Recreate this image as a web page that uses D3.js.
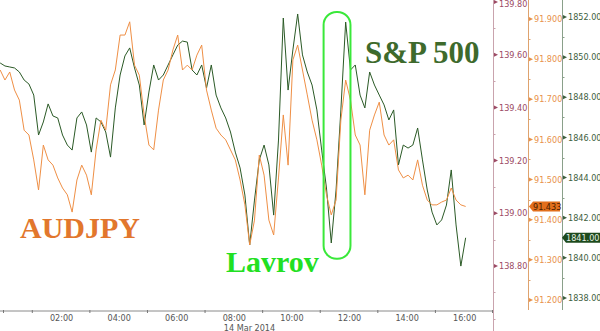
<!DOCTYPE html>
<html><head><meta charset="utf-8">
<script src="https://cdn.jsdelivr.net/npm/d3@7"></script>
<style>
body{margin:0;background:#fff;}
svg{display:block;}
.tk{font-family:"DejaVu Sans Condensed","DejaVu Sans",sans-serif;font-stretch:condensed;}
.ann{font-family:"Liberation Serif","Times New Roman",serif;font-weight:bold;}
</style></head>
<body>
<svg id="chart" width="600" height="331"></svg>
<script>
// ---- data (10-minute samples, 14 Mar 2014) ----
const startTime = new Date(2014, 2, 13, 23, 53);
const stepMinutes = 10;
const audjpy = [
  91.773, 91.748, 91.768, 91.723, 91.698, 91.623, 91.611, 91.549, 91.474, 91.586,
  91.549, 91.536, 91.504, 91.479, 91.462, 91.419, 91.499, 91.536, 91.511, 91.462,
  91.574, 91.648, 91.623, 91.736, 91.773, 91.860, 91.860, 91.893, 91.785, 91.760,
  91.661, 91.586, 91.574, 91.673, 91.748, 91.773, 91.823, 91.860, 91.773, 91.785,
  91.773, 91.810, 91.835, 91.723, 91.673, 91.628, 91.611, 91.599, 91.574, 91.549,
  91.499, 91.437, 91.337, 91.399, 91.561, 91.511, 91.399, 91.362, 91.504, 91.661,
  91.536, 91.798, 91.835, 91.773, 91.711, 91.648, 91.599, 91.536, 91.462, 91.412,
  91.449, 91.648, 91.748, 91.698, 91.611, 91.586, 91.462, 91.623, 91.661, 91.693,
  91.611, 91.586, 91.599, 91.524, 91.504, 91.511, 91.499, 91.549, 91.486, 91.449,
  91.437, 91.437, 91.444, 91.449, 91.479, 91.449, 91.437, 91.433
];
const spx = [
  1849.71, 1849.56, 1849.51, 1849.46, 1849.26, 1848.86, 1848.66, 1848.11, 1846.12, 1846.77,
  1847.67, 1847.07, 1846.97, 1846.12, 1845.62, 1845.37, 1846.97, 1847.27, 1846.62, 1845.27,
  1846.97, 1846.77, 1846.27, 1845.02, 1847.47, 1849.11, 1850.06, 1850.46, 1849.46, 1848.61,
  1846.62, 1848.26, 1849.61, 1848.86, 1849.11, 1849.61, 1850.11, 1850.60, 1850.80, 1850.75,
  1849.36, 1849.11, 1849.61, 1848.46, 1849.61, 1848.11, 1847.47, 1846.97, 1846.27, 1845.27,
  1844.48, 1843.13, 1840.64, 1842.88, 1844.88, 1845.62, 1844.63, 1842.13, 1845.87, 1851.95,
  1848.36, 1850.36, 1852.15, 1850.11, 1849.26, 1848.61, 1847.37, 1845.37, 1843.48, 1840.74,
  1843.38, 1847.37, 1851.75, 1849.36, 1849.61, 1848.11, 1847.47, 1849.26, 1848.61, 1848.11,
  1847.62, 1846.87, 1847.37, 1844.63, 1845.62, 1845.47, 1845.62, 1846.47, 1844.88, 1843.38,
  1842.28, 1841.64, 1841.89, 1842.63, 1844.38, 1841.64, 1839.59, 1841.00
];
const timeLabelHours = [2, 4, 6, 8, 10, 12, 14, 16];
const timeMinorHours = [0, 1, 3, 5, 7, 9, 11, 13, 15, 17];
const dateLabel = "14 Mar 2014";
const axis1Ticks = [138.8, 139.0, 139.2, 139.4, 139.6, 139.8];
const axis2Ticks = [91.2, 91.3, 91.4, 91.5, 91.6, 91.7, 91.8, 91.9];
const axis3Ticks = [1838, 1840, 1842, 1844, 1846, 1848, 1850, 1852];
const labelAud = "AUDJPY";
const labelSpx = "S&P 500";
const labelLavrov = "Lavrov";

// ---- scales ----
const day = (h, m = 0, s = 0) => new Date(2014, 2, 14, h, m, s);
const W = 493, axisY = 311;
const x = d3.scaleTime().domain([new Date(2014, 2, 13, 23, 52, 42), day(17)]).range([0, W]);
const y1 = d3.scaleLinear().domain([138.8, 139.8]).range([266, 2]);
const y2 = d3.scaleLinear().domain([91.2, 91.9]).range([300, 19]);
const y3 = d3.scaleLinear().domain([1838, 1852]).range([298, 17]);
const times = audjpy.map((_, i) => new Date(+startTime + i * stepMinutes * 60000));

const svg = d3.select("#chart");
const defs = svg.append("defs");
defs.append("clipPath").attr("id", "plotclip").append("rect").attr("x", 0).attr("y", 0).attr("width", W).attr("height", axisY);

// ---- bottom axis ----
const gx = svg.append("g").attr("transform", `translate(0,${axisY})`);
gx.append("line").attr("x1", 0).attr("x2", W).attr("stroke", "#8a8a8a").attr("stroke-width", 1);
gx.call(g => {
  const ax = d3.axisBottom(x).tickValues(timeLabelHours.map(h => day(h))).tickSize(0).tickPadding(3.5)
    .tickFormat(d3.timeFormat("%H:%M"));
  g.call(ax);
  g.select(".domain").remove();
  g.selectAll("text").attr("class", "tk").attr("fill", "#555").attr("font-size", 9);
});
gx.selectAll("line.minor").data(timeMinorHours).join("line").attr("class", "minor")
  .attr("x1", d => Math.min(x(day(d)), W - 0.5)).attr("x2", d => Math.min(x(day(d)), W - 0.5))
  .attr("y1", -1).attr("y2", 2).attr("stroke", "#777");
gx.append("text").attr("class", "tk").attr("text-anchor", "start")
  .attr("x", x(day(8)) - 10).attr("y", 19.5).attr("font-size", 9).attr("fill", "#555").text(dateLabel);

// ---- right axes ----
function rightAxis(scale, ticks, xPos, y0, y1p, lineColor, textColor, fmt, minorStep) {
  const g = svg.append("g").attr("transform", `translate(${xPos},0)`);
  g.append("line").attr("x1", 0.5).attr("x2", 0.5).attr("y1", y0).attr("y2", y1p).attr("stroke", lineColor).attr("stroke-width", 1);
  const lo = ticks[0] - minorStep * 2, hi = ticks[ticks.length - 1] + minorStep * 2;
  const minors = d3.range(Math.round(lo / minorStep), Math.round(hi / minorStep) + 1)
    .map(i => i * minorStep).filter(v => !ticks.some(t => Math.abs(t - v) < minorStep / 10))
    .filter(v => scale(v) > y0 && scale(v) < y1p);
  g.selectAll("line.mn").data(minors).join("line").attr("class", "mn")
    .attr("x1", 0).attr("x2", 2.5).attr("y1", d => Math.round(scale(d)) + 0.5).attr("y2", d => Math.round(scale(d)) + 0.5)
    .attr("stroke", lineColor);
  g.selectAll("path.mj").data(ticks).join("path").attr("class", "mj")
    .attr("d", d => { const yy = scale(d); return `M1,${yy - 2}L5,${yy}L1,${yy + 2}Z`; })
    .attr("fill", textColor);
  g.selectAll("text").data(ticks).join("text").attr("class", "tk")
    .attr("x", 6).attr("y", d => Math.max(scale(d), 4)).attr("dy", "0.35em")
    .attr("font-size", 9).attr("fill", textColor).text(d => fmt(d));
  return g;
}
rightAxis(y1, axis1Ticks, 493, 0, 331, "#c9a3ad", "#9c4a64", d3.format(".2f"), 0.1);
rightAxis(y2, axis2Ticks, 528, 0, 310, "#dfa36e", "#e8914a", d3.format(".3f"), 0.05);
rightAxis(y3, axis3Ticks, 562, 0, 310, "#8aa08a", "#3d5e3d", d3.format(".2f"), 1);

// ---- series ----
const plot = svg.append("g").attr("clip-path", "url(#plotclip)");
plot.append("path").datum(spx)
  .attr("d", d3.line().x((d, i) => x(times[i])).y(d => y3(d)))
  .attr("fill", "none").attr("stroke", "#2b5a26").attr("stroke-width", 1).attr("stroke-linejoin", "round");
plot.append("path").datum(audjpy)
  .attr("d", d3.line().x((d, i) => x(times[i])).y(d => y2(d)))
  .attr("fill", "none").attr("stroke", "#ef8f45").attr("stroke-width", 1).attr("stroke-linejoin", "round");

// ---- last value badges ----
function badge(xPos, yv, w, fill, color, txt) {
  const g = svg.append("g");
  const h = 5;
  g.append("path").attr("d", `M${xPos},${yv}L${xPos + 4},${yv - h}L${xPos + w},${yv - h}L${xPos + w},${yv + h}L${xPos + 4},${yv + h}Z`).attr("fill", fill);
  g.append("text").attr("class", "tk").attr("x", xPos + 4).attr("y", yv).attr("dy", "0.35em").attr("font-size", 9).attr("fill", color).text(txt);
}
badge(529, y2(audjpy[audjpy.length - 1]), 31, "#e26f1c", "#4a1d00", d3.format(".3f")(audjpy[audjpy.length - 1]));
badge(562, y3(spx[spx.length - 1]), 38, "#1d4a1d", "#e6f0e6", d3.format(".2f")(spx[spx.length - 1]));

// ---- annotations ----
svg.append("text").attr("class", "ann").attr("x", 20).attr("y", 238)
  .attr("font-size", 30).attr("fill", "#e2772d").text(labelAud);
svg.append("text").attr("class", "ann").attr("x", 226).attr("y", 272)
  .attr("font-size", 30).attr("fill", "#22e022").text(labelLavrov);
svg.append("text").attr("class", "ann").attr("x", 365).attr("y", 63)
  .attr("font-size", 31).attr("fill", "#3e6a2c").text(labelSpx);
svg.append("rect")
  .attr("x", x(day(11, 7))).attr("y", y3(1852.25))
  .attr("width", x(day(12, 3)) - x(day(11, 7))).attr("height", y3(1839.95) - y3(1852.25))
  .attr("rx", 13).attr("ry", 13).attr("fill", "none").attr("stroke", "#3ae83a").attr("stroke-width", 2);
</script>
</body></html>
